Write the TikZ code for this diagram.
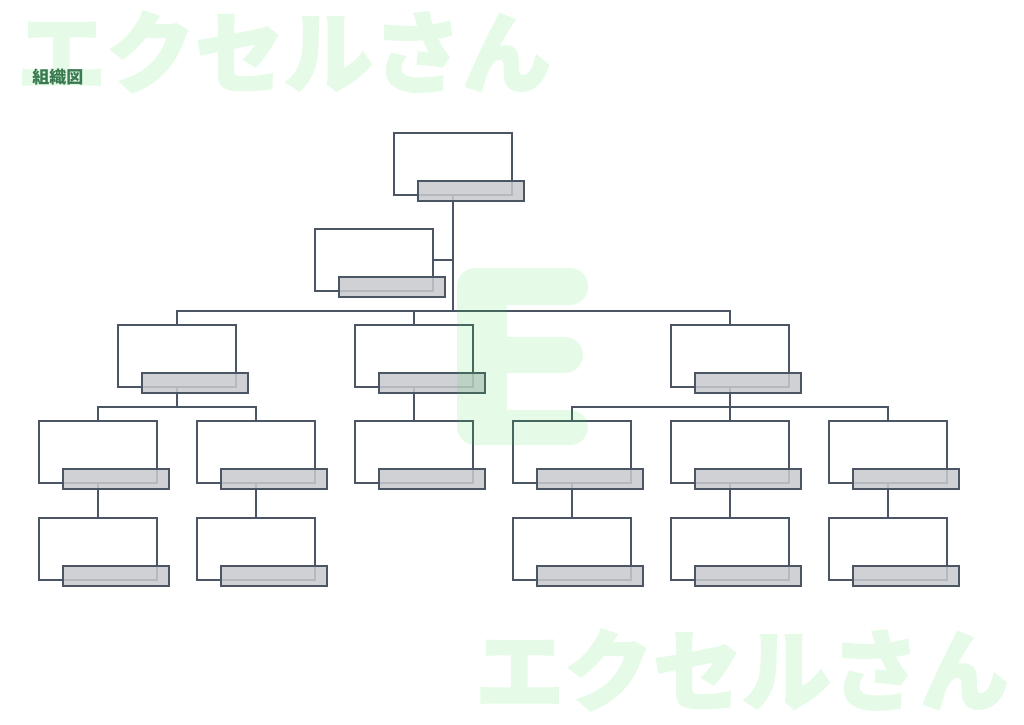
\documentclass[tikz,border=0pt]{standalone}
\usepackage{fontspec}
\newfontfamily\jp{Noto Sans CJK JP}
\newfontfamily\jpw{Noto Sans CJK JP}[BoldFeatures={FakeBold=2}]
\definecolor{ln}{HTML}{4B5563}
\definecolor{gf}{HTML}{C8CACE}
\definecolor{wm}{RGB}{47,230,72}
\definecolor{ttl}{HTML}{3A7A50}
\newcommand\orgbox[3]{\node[wbox] (#1) at ({#2+59},{#3+31}) {};}
\newcommand\orggray[3]{\node[gbox] (#1-g) at ({#2+77},{#3+58}) {};}
\begin{document}
\begin{tikzpicture}[x=0.5pt,y=-0.5pt,
  wbox/.style={draw=ln, line width=0.75pt, minimum width=59pt, minimum height=31pt, inner sep=0pt, outer sep=0pt},
  gbox/.style={draw=ln, fill=gf, fill opacity=0.85, line width=0.75pt, minimum width=53pt, minimum height=10pt, inner sep=0pt, outer sep=0pt},
  conn/.style={draw=ln, line width=0.75pt},
  wmark/.style={fill=wm},
  wtext/.style={text=wm, font=\jpw\bfseries\fontsize{44.5pt}{50pt}\selectfont, inner sep=0pt}]
\useasboundingbox[fill=white] (0,0) rectangle (1024,724);
% white boxes
\orgbox{top}{394}{133}
\orgbox{asst}{315}{229}
\orgbox{a}{118}{325}
\orgbox{b}{355}{325}
\orgbox{c}{671}{325}
\orgbox{a1}{39}{421}
\orgbox{a2}{197}{421}
\orgbox{b1}{355}{421}
\orgbox{c1}{513}{421}
\orgbox{c2}{671}{421}
\orgbox{c3}{829}{421}
\orgbox{a1x}{39}{518}
\orgbox{a2x}{197}{518}
\orgbox{c1x}{513}{518}
\orgbox{c2x}{671}{518}
\orgbox{c3x}{829}{518}
% connectors
\coordinate (j1) at (453,311);
\draw[conn] (top.south) -- (j1);
\draw[conn] (asst.east) -- (asst.east -| j1);
\draw[conn] (j1) -| (a.north);
\draw[conn] (j1) -| (b.north);
\draw[conn] (j1) -| (c.north);
\coordinate (j2) at (177,407);
\draw[conn] (a.south) -- (j2);
\draw[conn] (j2) -| (a1.north);
\draw[conn] (j2) -| (a2.north);
\draw[conn] (b.south) -- (b1.north);
\coordinate (j3) at (730,407);
\draw[conn] (c.south) -- (j3);
\draw[conn] (j3) -| (c1.north);
\draw[conn] (j3) -- (c2.north);
\draw[conn] (j3) -| (c3.north);
\draw[conn] (a1.south) -- (a1x.north);
\draw[conn] (a2.south) -- (a2x.north);
\draw[conn] (c1.south) -- (c1x.north);
\draw[conn] (c2.south) -- (c2x.north);
\draw[conn] (c3.south) -- (c3x.north);
% gray boxes
\orggray{top}{394}{133}
\orggray{asst}{315}{229}
\orggray{a}{118}{325}
\orggray{b}{355}{325}
\orggray{c}{671}{325}
\orggray{a1}{39}{421}
\orggray{a2}{197}{421}
\orggray{b1}{355}{421}
\orggray{c1}{513}{421}
\orggray{c2}{671}{421}
\orggray{c3}{829}{421}
\orggray{a1x}{39}{518}
\orggray{a2x}{197}{518}
\orggray{c1x}{513}{518}
\orggray{c2x}{671}{518}
\orggray{c3x}{829}{518}
% watermarks
\begin{scope}[transparency group, opacity=0.12]
\fill[wmark, rounded corners=9pt] (457,268) rectangle (588,305) (457,268) rectangle (507,445) (457,337) rectangle (583,373) (457,410) rectangle (588,445);
\node[wtext] (wm1) at (284,52) {エクセルさん};
\node[wtext] (wm2) at (742,670) {エクセルさん};
\end{scope}
% title
\node[text=ttl, font=\jp\bfseries\fontsize{8.5pt}{10pt}\selectfont, inner sep=0pt] (title) at (58,77) {組織図};
\end{tikzpicture}
\end{document}
